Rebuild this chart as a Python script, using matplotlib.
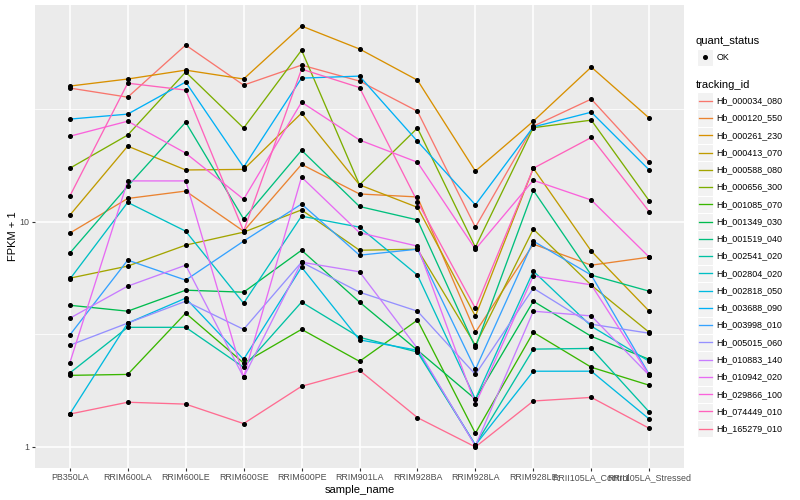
import numpy as np
import matplotlib
matplotlib.use("Agg")
import matplotlib.pyplot as plt
from matplotlib.patches import Rectangle
from matplotlib.lines import Line2D

plt.rcParams['font.family'] = ['Liberation Sans', 'DejaVu Sans']

samples = ["PB350LA", "RRIM600LA", "RRIM600LE", "RRIM600SE", "RRIM600PE", "RRIM901LA",
           "RRIM928BA", "RRIM928LA", "RRIM928LE", "RRII105LA_Control", "RRII105LA_Stressed"]

tracking_ids = ["Hb_000034_080", "Hb_000120_550", "Hb_000261_230", "Hb_000413_070", "Hb_000588_080",
                "Hb_000656_300", "Hb_001085_070", "Hb_001349_030", "Hb_001519_040", "Hb_002541_020",
                "Hb_002804_020", "Hb_002818_050", "Hb_003688_090", "Hb_003998_010", "Hb_005015_060",
                "Hb_010883_140", "Hb_010942_020", "Hb_029866_100", "Hb_074449_010", "Hb_165279_010"]

# ggplot default hue palette for 20 groups
colors = ["#F8766D", "#EA8331", "#D89000", "#C09B00", "#A3A500", "#7CAE00", "#39B600", "#00BB4E",
          "#00BF7D", "#00C1A3", "#00BFC4", "#00BAE0", "#00B0F6", "#35A2FF", "#9590FF", "#C77CFF",
          "#E76BF3", "#FA62DB", "#FF62BC", "#FF6C91"]

# FPKM + 1, one value per sample
Hb_000034_080 = [39.3, 35.8, 61.0, 40.5, 49.7, 42.2, 31.0, 9.47, 26.6, 35.1, 18.4]
Hb_000120_550 = [8.91, 12.7, 13.7, 9.09, 18.0, 13.3, 12.9, 3.23, 7.96, 6.42, 6.97]
Hb_000261_230 = [40.1, 43.1, 47.2, 43.1, 74.1, 58.6, 42.6, 16.8, 28.0, 48.7, 28.9]
Hb_000413_070 = [10.7, 21.7, 17.0, 17.1, 30.4, 14.6, 11.6, 3.81, 17.3, 7.41, 4.01]
Hb_000588_080 = [5.62, 6.36, 7.88, 9.00, 11.3, 7.48, 7.56, 2.83, 9.28, 5.23, 3.23]
Hb_000656_300 = [17.3, 24.3, 46.3, 26.1, 57.9, 14.6, 26.1, 7.72, 26.2, 28.3, 12.4]
Hb_001085_070 = [2.08, 2.10, 3.93, 2.36, 3.33, 2.40, 3.66, 1.15, 3.23, 2.26, 1.88]
Hb_001349_030 = [4.26, 4.01, 4.97, 4.87, 7.48, 4.40, 2.69, 1.63, 4.44, 3.10, 2.45]
Hb_001519_040 = [7.26, 14.4, 27.7, 10.3, 20.8, 11.7, 10.2, 2.77, 13.8, 5.80, 4.92]
Hb_002541_020 = [2.13, 3.40, 3.40, 2.26, 4.40, 3.07, 2.64, 1.02, 2.72, 2.74, 1.43]
Hb_002804_020 = [5.56, 12.2, 9.09, 4.35, 10.6, 9.47, 5.80, 1.63, 6.04, 3.44, 2.40]
Hb_002818_050 = [1.40, 3.55, 4.58, 2.45, 6.29, 2.99, 2.69, 1.02, 2.17, 2.17, 1.33]
Hb_003688_090 = [28.6, 30.1, 41.8, 17.5, 43.5, 44.4, 22.8, 11.9, 26.4, 30.7, 17.0]
Hb_003998_010 = [3.14, 6.76, 5.51, 8.21, 12.0, 7.11, 7.56, 2.21, 8.21, 5.80, 2.10]
Hb_005015_060 = [2.83, 3.55, 4.44, 3.33, 6.62, 4.87, 4.01, 2.10, 5.07, 3.51, 3.20]
Hb_010883_140 = [3.73, 5.18, 6.42, 2.04, 6.62, 6.00, 2.74, 1.01, 4.01, 3.82, 2.08]
Hb_010942_020 = [2.36, 15.2, 15.2, 2.04, 15.8, 8.95, 7.80, 1.55, 5.75, 5.25, 2.08]
Hb_029866_100 = [24.0, 28.0, 20.2, 12.6, 34.0, 23.1, 18.4, 7.56, 15.3, 12.5, 6.97]
Hb_074449_010 = [13.0, 41.3, 38.5, 9.09, 47.7, 39.5, 12.3, 4.13, 17.3, 23.7, 11.1]
Hb_165279_010 = [1.40, 1.58, 1.55, 1.27, 1.86, 2.19, 1.35, 1.00, 1.60, 1.66, 1.21]

series = [Hb_000034_080, Hb_000120_550, Hb_000261_230, Hb_000413_070, Hb_000588_080,
          Hb_000656_300, Hb_001085_070, Hb_001349_030, Hb_001519_040, Hb_002541_020,
          Hb_002804_020, Hb_002818_050, Hb_003688_090, Hb_003998_010, Hb_005015_060,
          Hb_010883_140, Hb_010942_020, Hb_029866_100, Hb_074449_010, Hb_165279_010]

W, H = 800, 500
fig = plt.figure(figsize=(8, 5), dpi=100)
ax = fig.add_axes([35 / W, 1 - 468 / H, (684 - 35) / W, (468 - 5) / H])
ax.set_facecolor("#EBEBEB")

x = np.arange(len(samples))
for vals, col in zip(series, colors):
    ax.plot(x, vals, color=col, lw=0.95, zorder=2)
for vals in series:
    ax.plot(x, vals, ls="none", marker="o", ms=2.6, color="black", zorder=3)

ax.set_yscale("log")
allv = np.log10(np.concatenate(series))
lo, hi = allv.min(), allv.max()
pad = 0.05 * (hi - lo)
ax.set_ylim(10 ** (lo - pad), 10 ** (hi + pad))
ax.set_xlim(-0.6, len(samples) - 1 + 0.6)

ax.set_yticks([1, 10])
ax.set_yticklabels(["1", "10"])
ax.set_yticks([10 ** 0.5, 10 ** 1.5], minor=True)
ax.set_yticklabels([], minor=True)
ax.set_xticks(x)
ax.set_xticklabels(samples)

ax.grid(True, which="major", color="white", lw=1.1)
ax.grid(True, which="minor", axis="y", color="white", lw=0.55)
ax.set_axisbelow(True)
for s in ax.spines.values():
    s.set_visible(False)
ax.tick_params(which="major", length=2.0, width=0.8, color="#333333", labelsize=6.4,
               labelcolor="#4D4D4D", pad=1.8)
ax.tick_params(which="minor", length=0)

ax.set_xlabel("sample_name", fontsize=8, labelpad=2)
ax.set_ylabel("FPKM + 1", fontsize=8, labelpad=1)


def fx(px):
    return px / W


def fy(py):
    return 1 - py / H


# legend: quant_status
fig.text(fx(696), fy(41), "quant_status", fontsize=8, va="center", ha="left")
fig.patches.append(Rectangle((fx(697), fy(65.5)), 16 / W, 16.5 / H, transform=fig.transFigure,
                             facecolor="#F2F2F2", edgecolor="white", lw=0.8))
fig.lines.append(Line2D([fx(705)], [fy(57)], transform=fig.transFigure, marker="o", ms=2.6,
                        color="black", ls="none"))
fig.text(fx(716.5), fy(57), "OK", fontsize=6.4, va="center", ha="left")

# legend: tracking_id
fig.text(fx(696), fy(84.5), "tracking_id", fontsize=8, va="center", ha="left")
step = 17.26
for i, (name, col) in enumerate(zip(tracking_ids, colors)):
    cy = 100.8 + i * step
    fig.patches.append(Rectangle((fx(697), fy(cy + step / 2)), 16 / W, step / H,
                                 transform=fig.transFigure, facecolor="#F2F2F2",
                                 edgecolor="white", lw=0.8))
    fig.lines.append(Line2D([fx(698.5), fx(711.5)], [fy(cy), fy(cy)], transform=fig.transFigure,
                            color=col, lw=0.95))
    fig.text(fx(716.5), fy(cy), name, fontsize=6.4, va="center", ha="left")

fig.savefig("out.png", dpi=100)
